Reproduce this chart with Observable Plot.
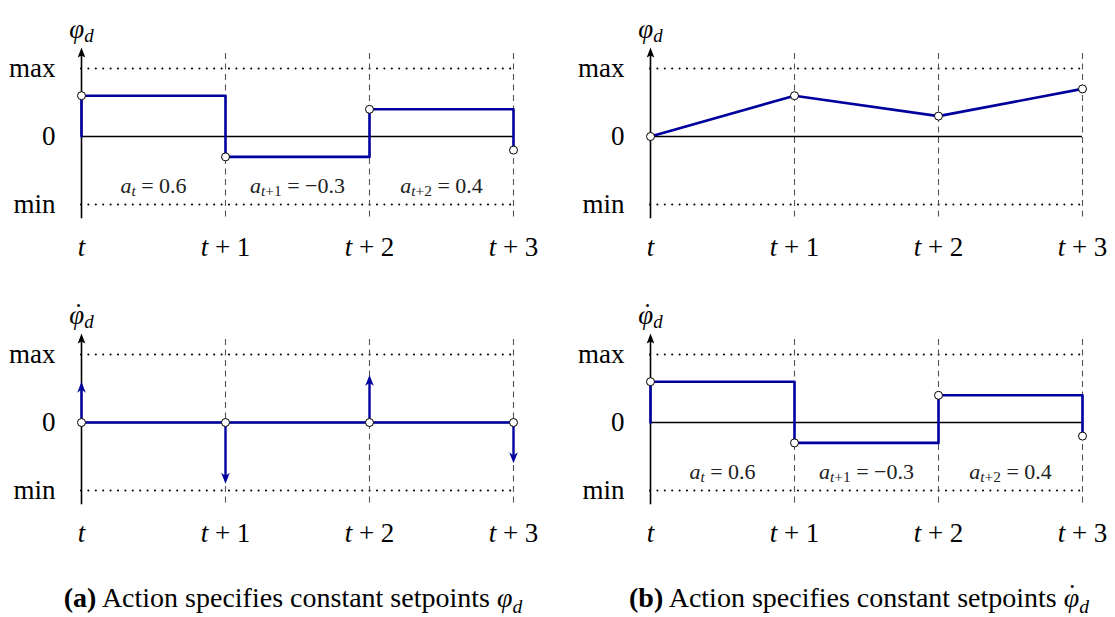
<!DOCTYPE html>
<html><head><meta charset="utf-8">
<script src="https://cdn.jsdelivr.net/npm/d3@7"></script>
<script src="https://cdn.jsdelivr.net/npm/@observablehq/plot@0.6"></script>
<style>
body{margin:0;background:#fff;}
#fig{position:relative;width:1115px;height:617px;font-family:"Liberation Serif","Times New Roman","DejaVu Serif",serif;overflow:hidden;}
.panel{position:absolute;}
.cap{position:absolute;top:583px;font-size:28px;line-height:30px;white-space:nowrap;transform:translateX(-50%);color:#000;}
.cap sub{font-size:70%;vertical-align:-0.3em;line-height:0;}
.dotted{position:relative;display:inline-block;}
.dotted .dt{position:absolute;left:55%;top:-0.1em;transform:translateX(-50%);font-style:normal;line-height:1;}
</style></head><body><div id="fig"></div>
<script>
// ---- data ----
const xDomain = [0, 3];
const steps = [0, 1, 2, 3];
const xTickLabels = ["$t", "$t + 1", "$t + 2", "$t + 3"];
const yTicks = [-1, 0, 1];
const yTickLabels = ["min", "0", "max"];
const limitLines = [-1, 1];
const guideExtent = [1.22, -1.24];
const axisExtent = [-1.21, 1.25];
const axisTip = 1.31;

// constant setpoint (step) series
const stepX = [0, 0, 1, 2, 3];
const stepY = [0, 0.6, -0.3, 0.4, -0.2];
const stepDotX = [0, 1, 2, 3];
const stepDotY = [0.6, -0.3, 0.4, -0.2];

// integrated (piecewise linear) series
const rampY = [0, 0.6, 0.3, 0.7];

// impulses (derivative of step setpoints)
const impulseY = [0.6, -0.9, 0.7, -0.6];

const actionLabels = ["$a_t = 0.6", "$a_{t+1} = −0.3", "$a_{t+2} = 0.4"];
const actionLabelX = [0.5, 1.5, 2.5];
const actionLabelY = [-0.72, -0.72, -0.72];

// "^" marks a dot above the preceding symbol
const panelTitles = ["$φ_d", "$φ_d", "$φ^_d", "$φ^_d"];
const captions = [
  {tag: "(a)", text: "Action specifies constant setpoints ", dotted: false},
  {tag: "(b)", text: "Action specifies constant setpoints ", dotted: true}
];

// ---- style ----
const BLUE = "#00009e";
const FONT = "'Liberation Serif', 'Times New Roman', 'DejaVu Serif', serif";
const layout = [
  {left: 0, top: 0}, {left: 569, top: 0}, {left: 0, top: 286}, {left: 569, top: 286}
];
const captionCenters = [293, 859];

function stealth(L, w, notch) {
  return {draw(ctx) {
    ctx.moveTo(0, 0);
    ctx.lineTo(w, L);
    ctx.lineTo(0, L * notch);
    ctx.lineTo(-w, L);
    ctx.closePath();
  }};
}
const axisHead = stealth(10, 3.8, 0.82);
const blueHead = stealth(11, 4.3, 0.72);

function frameMarks(title) {
  return [
    Plot.ruleY(limitLines, {x1: () => xDomain[0], x2: () => xDomain[1], stroke: "black", strokeWidth: 2.1, strokeDasharray: "0,7.4", strokeLinecap: "round"}),
    Plot.ruleX(steps.slice(1), {x: d => d, y1: () => guideExtent[0], y2: () => guideExtent[1], stroke: "#555", strokeWidth: 1.1, strokeDasharray: "6,4.5"}),
    Plot.ruleY([0], {x1: () => xDomain[0], x2: () => xDomain[1], stroke: "black", strokeWidth: 1.3}),
    Plot.ruleX([0], {x: d => d, y1: () => axisExtent[0], y2: () => axisExtent[1], stroke: "black", strokeWidth: 1.6}),
    Plot.dot([0], {x: d => d, y: () => axisTip, symbol: axisHead, fill: "black", stroke: "none"}),
    Plot.axisX({ticks: steps, tickFormat: d => xTickLabels[d], tickSize: 0, tickPadding: 32, fontSize: 27, fill: "black"}),
    Plot.axisY({ticks: yTicks, tickFormat: d => yTickLabels[yTicks.indexOf(d)], tickSize: 0, tickPadding: 26, fontSize: 27, fill: "black"}),
    Plot.text([title], {x: () => 0, frameAnchor: "top", dy: -50, fontSize: 27, fill: "black"})
  ];
}

function stepMarks() {
  return [
    Plot.line(stepX, {x: stepX, y: stepY, curve: "step-after", stroke: BLUE, strokeWidth: 2.6}),
    Plot.dot(stepDotX, {x: stepDotX, y: stepDotY, r: 4, fill: "white", stroke: "black", strokeWidth: 1}),
    Plot.text(actionLabels, {x: actionLabelX, y: actionLabelY, fontSize: 22, fill: "#222"})
  ];
}
function rampMarks() {
  return [
    Plot.line(steps, {x: steps, y: rampY, stroke: BLUE, strokeWidth: 2.6}),
    Plot.dot(steps, {x: steps, y: rampY, r: 4, fill: "white", stroke: "black", strokeWidth: 1})
  ];
}
function impulseMarks() {
  const up = steps.filter(i => impulseY[i] > 0);
  const down = steps.filter(i => impulseY[i] < 0);
  return [
    Plot.ruleY([0], {x1: () => xDomain[0], x2: () => xDomain[1], stroke: BLUE, strokeWidth: 2.6}),
    Plot.ruleX(up, {x: d => d, y1: d => impulseY[d], y2: () => 0, insetTop: 7, stroke: BLUE, strokeWidth: 2.4}),
    Plot.ruleX(down, {x: d => d, y1: () => 0, y2: d => impulseY[d], insetBottom: 7, stroke: BLUE, strokeWidth: 2.4}),
    Plot.dot(steps, {x: d => d, y: d => impulseY[d], symbol: blueHead, rotate: d => impulseY[d] > 0 ? 0 : 180, fill: BLUE, stroke: "none"}),
    Plot.dot(steps, {x: d => d, y: () => 0, r: 4, fill: "white", stroke: "black", strokeWidth: 1})
  ];
}

const SVGNS = "http://www.w3.org/2000/svg";
// Converts "$..." labels into tspans: italic letters, "_" subscripts, "^" dot accent.
// Must run while the svg is attached (uses text measurement for the accent).
function mathify(root) {
  root.querySelectorAll("text").forEach(t => {
    if (t.querySelector("tspan")) return;
    const s = t.textContent;
    if (!s.startsWith("$")) return;
    const src = s.slice(1);
    const runs = [];
    let i = 0;
    const push = (ch, sub) => runs.push({ch, sub, it: /[A-Za-zα-ω]/.test(ch), acc: ch === "^"});
    while (i < src.length) {
      const c = src[i];
      if (c === "_") {
        let sub;
        if (src[i + 1] === "{") { const j = src.indexOf("}", i); sub = src.slice(i + 2, j); i = j + 1; }
        else { sub = src[i + 1]; i += 2; }
        for (const ch of sub) push(ch, true);
      } else { push(c, false); i++; }
    }
    const groups = [];
    for (const r of runs) {
      const g = groups[groups.length - 1];
      if (g && !r.acc && !g.acc && g.sub === r.sub && g.it === r.it) g.s += r.ch;
      else groups.push({s: r.ch, sub: r.sub, it: r.it, acc: r.acc});
    }
    t.textContent = "";
    let prevSub = false;
    const spans = [];
    for (const g of groups) {
      const ts = document.createElementNS(SVGNS, "tspan");
      ts.textContent = g.acc ? "˙" : g.s;
      if (g.it) ts.setAttribute("font-style", "italic");
      let dy = 0;
      if (g.sub) { ts.setAttribute("font-size", "70%"); if (!prevSub) dy = "0.25em"; }
      else if (prevSub) dy = "-0.175em";
      if (dy) ts.setAttribute("dy", dy);
      if (!g.acc) prevSub = g.sub;
      t.appendChild(ts);
      spans.push({ts, g});
    }
    // position accents over the preceding glyph
    spans.forEach((sp, k) => {
      if (!sp.g.acc || k === 0) return;
      const prev = spans[k - 1].ts;
      const wPrev = prev.getComputedTextLength();
      const wDot = sp.ts.getComputedTextLength();
      const shift = wPrev / 2 + wDot / 2 - wPrev * 0.12;
      sp.ts.setAttribute("dx", -shift);
      sp.ts.setAttribute("dy", "-0.05em");
      const next = spans[k + 1];
      if (next) {
        next.ts.setAttribute("dx", shift - wDot);
        const ndy = next.ts.getAttribute("dy");
        const base = parseFloat(getComputedStyle(sp.ts).fontSize) * 0.05;
        const nfs = parseFloat(getComputedStyle(next.ts).fontSize);
        const ndyPx = (ndy ? parseFloat(ndy) * nfs : 0) + base;
        next.ts.setAttribute("dy", ndyPx);
      }
    });
  });
}

const fig = document.getElementById("fig");
const contents = [stepMarks, rampMarks, impulseMarks, stepMarks];
contents.forEach((fn, k) => {
  const svg = Plot.plot({
    width: 546, height: 280,
    marginLeft: 81, marginRight: 33, marginTop: 68, marginBottom: 76,
    x: {domain: xDomain},
    y: {domain: [-1, 1]},
    style: {fontFamily: FONT, fontSize: "27px", background: "transparent", overflow: "visible", color: "black"},
    marks: [...frameMarks(panelTitles[k]), ...fn()]
  });
  const div = document.createElement("div");
  div.className = "panel";
  div.style.left = layout[k].left + "px";
  div.style.top = layout[k].top + "px";
  div.appendChild(svg);
  fig.appendChild(div);
  mathify(svg);
});
captions.forEach((c, k) => {
  const d = document.createElement("div");
  d.className = "cap";
  d.style.left = captionCenters[k] + "px";
  const sym = c.dotted ? `<span class="dotted"><i>φ</i><span class="dt">˙</span></span>` : `<i>φ</i>`;
  d.innerHTML = `<b>${c.tag}</b> ${c.text}${sym}<sub><i>d</i></sub>`;
  fig.appendChild(d);
});
</script></body></html>
